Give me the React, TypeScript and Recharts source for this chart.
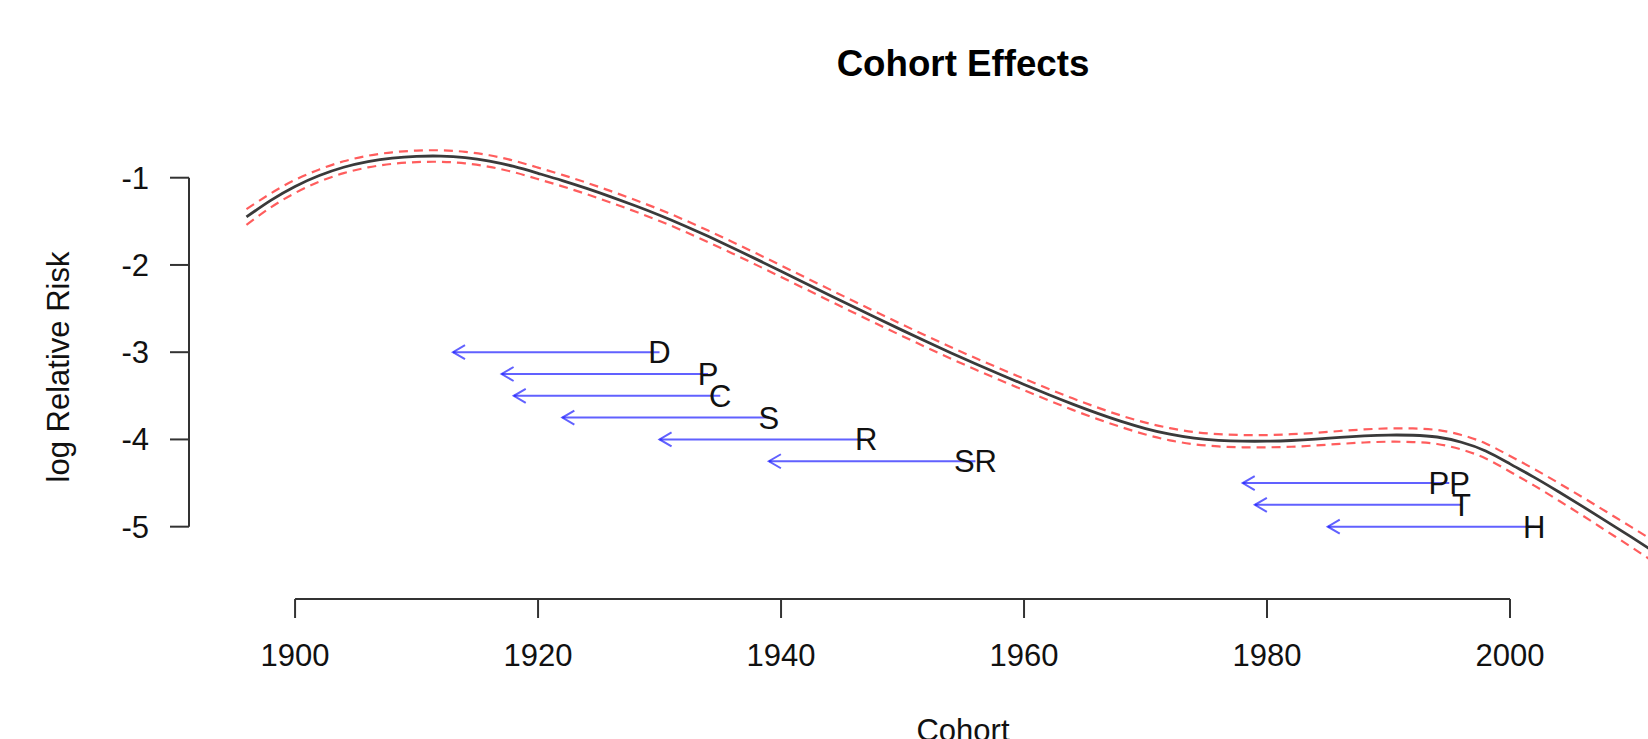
import { ComposedChart, Line, XAxis, YAxis, ReferenceLine } from "recharts";

const FONT = '"Liberation Sans", Arial, Helvetica, sans-serif';

// cohort years and fitted log relative risk
const cohortYears = [
  1896, 1898, 1900, 1902, 1904, 1906, 1908, 1910, 1912, 1914, 1916, 1918,
  1920, 1922, 1924, 1926, 1928, 1930, 1932, 1934, 1936, 1938, 1940, 1942,
  1944, 1946, 1948, 1950, 1952, 1954, 1956, 1958, 1960, 1962, 1964, 1966,
  1968, 1970, 1972, 1974, 1976, 1978, 1980, 1982, 1984, 1986, 1988, 1990,
  1992, 1994, 1996, 1998, 2000, 2002, 2004, 2006, 2008, 2010, 2012, 2014,
];
const logRisk = [
  -1.45, -1.26, -1.1, -0.975, -0.88, -0.815, -0.775, -0.755, -0.752, -0.769, -0.809, -0.871,
  -0.95, -1.033, -1.123, -1.22, -1.322, -1.43, -1.547, -1.672, -1.802, -1.936, -2.072, -2.209,
  -2.346, -2.482, -2.617, -2.75, -2.881, -3.009, -3.133, -3.253, -3.37, -3.485, -3.595, -3.698,
  -3.793, -3.875, -3.94, -3.985, -4.01, -4.02, -4.02, -4.012, -3.997, -3.977, -3.96, -3.95,
  -3.952, -3.972, -4.032, -4.132, -4.28, -4.435, -4.6, -4.77, -4.945, -5.12, -5.3, -5.48,
];
const lowerBand = [
  -1.54, -1.34, -1.175, -1.045, -0.948, -0.882, -0.841, -0.821, -0.818, -0.835, -0.875, -0.937,
  -1.016, -1.099, -1.189, -1.286, -1.388, -1.496, -1.613, -1.738, -1.868, -2.002, -2.138, -2.275,
  -2.412, -2.548, -2.683, -2.816, -2.947, -3.075, -3.199, -3.319, -3.436, -3.551, -3.661, -3.764,
  -3.859, -3.943, -4.01, -4.055, -4.08, -4.09, -4.09, -4.084, -4.069, -4.051, -4.035, -4.026,
  -4.03, -4.052, -4.115, -4.218, -4.37, -4.53, -4.7, -4.875, -5.055, -5.235, -5.42, -5.605,
];
const upperBand = [
  -1.36, -1.18, -1.025, -0.905, -0.812, -0.748, -0.709, -0.689, -0.686, -0.703, -0.743, -0.805,
  -0.884, -0.967, -1.057, -1.154, -1.256, -1.364, -1.481, -1.606, -1.736, -1.87, -2.006, -2.143,
  -2.28, -2.416, -2.551, -2.684, -2.815, -2.943, -3.067, -3.187, -3.304, -3.419, -3.529, -3.632,
  -3.727, -3.807, -3.87, -3.915, -3.94, -3.95, -3.95, -3.94, -3.925, -3.903, -3.885, -3.874,
  -3.874, -3.892, -3.949, -4.046, -4.19, -4.34, -4.5, -4.665, -4.835, -5.005, -5.18, -5.355,
];

const xTicks = [1900, 1920, 1940, 1960, 1980, 2000];
const yTicks = [-1, -2, -3, -4, -5];

// annotation arrows: label sits at arrowFrom, head points back to arrowTo
const arrowLabels = ["D", "P", "C", "S", "R", "SR", "PP", "T", "H"];
const arrowFrom = [1930, 1934, 1935, 1939, 1947, 1956, 1995, 1996, 2002];
const arrowTo = [1913, 1917, 1918, 1922, 1930, 1939, 1978, 1979, 1985];
const arrowLevel = [-3, -3.25, -3.5, -3.75, -4, -4.25, -4.5, -4.75, -5];

const X_MIN = 1891.27;
const X_MAX = 2020;
const Y_MIN = -5.829;
const Y_MAX = 1.037;

const rows = cohortYears.map((year, i) => ({
  year,
  est: logRisk[i],
  lo: lowerBand[i],
  hi: upperBand[i],
}));

const ARROW = "rgba(30,30,255,0.7)";
const BAND = "rgba(255,30,30,0.72)";

function Arrow(props: any) {
  const { x1, y1, x2, label } = props;
  const tip = Math.min(x1, x2);
  const tail = Math.max(x1, x2);
  const y = y1;
  return (
    <g>
      <line x1={tail} y1={y} x2={tip} y2={y} stroke={ARROW} strokeWidth={2} />
      <polyline
        points={`${tip + 12},${y - 7} ${tip},${y} ${tip + 12},${y + 7}`}
        fill="none"
        stroke={ARROW}
        strokeWidth={2}
      />
      <text
        x={tail}
        y={y}
        dy="0.355em"
        textAnchor="middle"
        fontSize={31}
        fontFamily={FONT}
        fill="#111"
      >
        {label}
      </text>
    </g>
  );
}

export default function App() {
  return (
    <div
      style={{
        position: "absolute",
        left: 0,
        top: 0,
        width: 1648,
        height: 739,
        overflow: "hidden",
        background: "#fff",
      }}
    >
      <ComposedChart
        width={1753}
        height={739}
        data={rows}
        margin={{ top: 0, right: 0, bottom: 0, left: 0 }}
      >
        <XAxis
          dataKey="year"
          type="number"
          domain={[X_MIN, X_MAX]}
          allowDataOverflow
          ticks={xTicks}
          interval={0}
          height={140}
          axisLine={false}
          tickSize={19}
          tickMargin={26}
          tickLine={{ stroke: "#333", strokeWidth: 2 }}
          tick={{ fill: "#111", fontSize: 31, fontFamily: FONT }}
          label={{
            content: () => (
              <text
                x={963}
                y={741}
                textAnchor="middle"
                fontSize={31}
                fontFamily={FONT}
                fill="#111"
              >
                Cohort
              </text>
            ),
          }}
        />
        <YAxis
          type="number"
          domain={[Y_MIN, Y_MAX]}
          allowDataOverflow
          ticks={yTicks}
          interval={0}
          width={189}
          axisLine={false}
          tickSize={19}
          tickMargin={21}
          tickLine={{ stroke: "#333", strokeWidth: 2 }}
          tick={{ fill: "#111", fontSize: 31, fontFamily: FONT }}
          label={{
            content: () => (
              <text
                x={69}
                y={367}
                transform="rotate(-90, 69, 367)"
                textAnchor="middle"
                fontSize={31}
                fontFamily={FONT}
                fill="#111"
              >
                log Relative Risk
              </text>
            ),
          }}
        />
        <ReferenceLine
          segment={[
            { x: X_MIN, y: yTicks[0] },
            { x: X_MIN, y: yTicks[yTicks.length - 1] },
          ]}
          stroke="#333"
          strokeWidth={2}
          ifOverflow="visible"
        />
        <ReferenceLine
          segment={[
            { x: xTicks[0], y: Y_MIN },
            { x: xTicks[xTicks.length - 1], y: Y_MIN },
          ]}
          stroke="#333"
          strokeWidth={2}
          ifOverflow="visible"
        />
        <Line
          dataKey="hi"
          type="natural"
          stroke={BAND}
          strokeWidth={2.2}
          strokeDasharray="9 6"
          dot={false}
          activeDot={false}
          isAnimationActive={false}
        />
        <Line
          dataKey="lo"
          type="natural"
          stroke={BAND}
          strokeWidth={2.2}
          strokeDasharray="9 6"
          dot={false}
          activeDot={false}
          isAnimationActive={false}
        />
        <Line
          dataKey="est"
          type="natural"
          stroke="#3a3a3a"
          strokeWidth={2.8}
          dot={false}
          activeDot={false}
          isAnimationActive={false}
        />
        {arrowLabels.map((name, i) => (
          <ReferenceLine
            key={name}
            segment={[
              { x: arrowFrom[i], y: arrowLevel[i] },
              { x: arrowTo[i], y: arrowLevel[i] },
            ]}
            ifOverflow="visible"
            shape={(p: any) => <Arrow {...p} label={name} />}
          />
        ))}
        <text
          x={963}
          y={76}
          textAnchor="middle"
          fontSize={36.7}
          fontWeight="bold"
          fontFamily={FONT}
          fill="#000"
        >
          Cohort Effects
        </text>
      </ComposedChart>
    </div>
  );
}
